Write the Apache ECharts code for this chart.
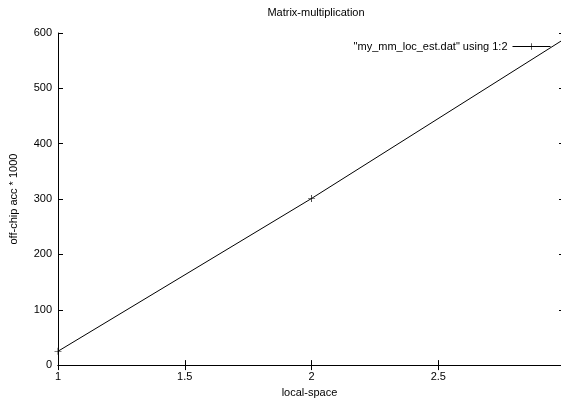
<!DOCTYPE html>
<html lang="en">
<head>
    <meta charset="UTF-8">
    <title>Matrix-multiplication</title>
    <script src="https://cdn.jsdelivr.net/npm/echarts@6/dist/echarts.min.js"></script>
    <style>
        body {margin:0; background:#fff}
    </style>
</head>
<body>
<div id="main" style="width: 561px; height:403px;"></div>
<script>
    var localSpace = [1, 2, 3];
    var offChipAcc = [25, 301, 590];
    var seriesName = '"my_mm_loc_est.dat" using 1:2';

    var points = [];
    for (var i = 0; i < localSpace.length; i++) {
        points.push([localSpace[i], offChipAcc[i]]);
    }

    var font = 'Liberation Sans, Arial, sans-serif';
    var plus = 'path://M0,4.5L10,4.5L10,5.5L0,5.5Z M4.5,0L5.5,0L5.5,10L4.5,10Z';
    // the picture is cut just before x = 3
    var xMax = 2.984;

    var chart = echarts.init(document.getElementById("main"));
    chart.setOption({
        animation: false,
        title: {
            text: 'Matrix-multiplication',
            left: 311, top: 2,
            textAlign: 'center',
            textStyle: {fontFamily: font, fontSize: 11, fontWeight: 'normal', color: '#000'}
        },
        legend: {
            right: 5, top: 36,
            align: 'right',
            itemWidth: 38, itemHeight: 8, itemGap: 6,
            lineStyle: {width: 1},
            textStyle: {fontFamily: font, fontSize: 11, color: '#000'},
            data: [seriesName]
        },
        grid: {left: 57, top: 33, right: 0, height: 336},
        xAxis: [{
            type: 'value', min: 1, max: xMax, interval: 0.5,
            name: 'local-space', nameLocation: 'middle', nameGap: 18,
            nameTextStyle: {fontFamily: font, fontSize: 11, color: '#000'},
            axisLine: {lineStyle: {color: '#000', width: 1}},
            axisTick: {inside: true, length: 5, lineStyle: {color: '#000'}},
            axisLabel: {fontFamily: font, fontSize: 11, color: '#000', margin: 6, showMaxLabel: false},
            splitLine: {show: false}
        }, {
            type: 'value', min: 1, max: xMax, interval: 0.5, position: 'top',
            axisLine: {show: true, lineStyle: {color: '#000', width: 1}},
            axisTick: {inside: true, length: 5, lineStyle: {color: '#000'}},
            axisLabel: {show: false},
            splitLine: {show: false}
        }],
        yAxis: [{
            type: 'value', min: 0, max: 600, interval: 100,
            name: 'off-chip acc * 1000', nameLocation: 'middle', nameGap: 39,
            nameTextStyle: {fontFamily: font, fontSize: 11, color: '#000'},
            axisLine: {show: true, lineStyle: {color: '#000', width: 1}},
            axisTick: {show: true, inside: true, length: 5, lineStyle: {color: '#000'}},
            axisLabel: {fontFamily: font, fontSize: 11, color: '#000', margin: 6},
            splitLine: {show: false}
        }, {
            type: 'value', min: 0, max: 600, interval: 100, position: 'right',
            axisLine: {show: false},
            axisTick: {show: true, inside: true, length: 2, lineStyle: {color: '#000'}},
            axisLabel: {show: false},
            splitLine: {show: false}
        }],
        series: [{
            name: seriesName,
            type: 'line',
            xAxisIndex: 0, yAxisIndex: 0,
            symbol: plus, symbolSize: 7,
            showAllSymbol: true,
            lineStyle: {color: '#000', width: 1},
            itemStyle: {color: '#000'},
            data: points
        }]
    });
</script>
</body>
</html>
